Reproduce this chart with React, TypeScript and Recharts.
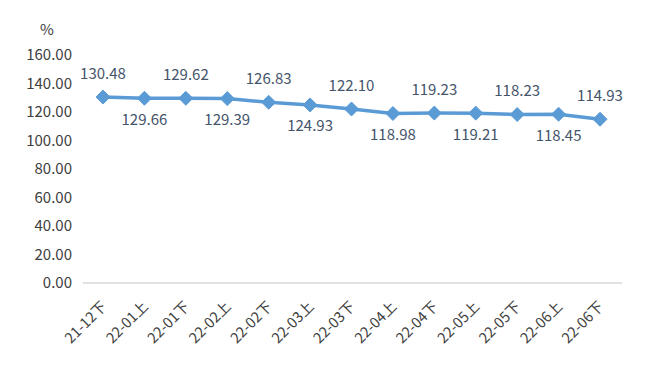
import React from 'react';
import { LineChart, Line, XAxis, YAxis, LabelList } from 'recharts';

const categories = ['21-12下', '22-01上', '22-01下', '22-02上', '22-02下', '22-03上', '22-03下', '22-04上', '22-04下', '22-05上', '22-05下', '22-06上', '22-06下'];
const values = [130.48, 129.66, 129.62, 129.39, 126.83, 124.93, 122.1, 118.98, 119.23, 119.21, 118.23, 118.45, 114.93];
const yTicks = [0, 20, 40, 60, 80, 100, 120, 140, 160];

const data = categories.map((c, i) => ({ name: c, value: values[i] }));

const FONT = '"Noto Sans CJK SC", "Open Sans", sans-serif';
const LINE_COLOR = '#5B9BD5';

const Diamond = (props: any) => {
  const { cx, cy } = props;
  if (cx == null || cy == null) return null;
  const r = 7;
  return (
    <polygon
      points={`${cx},${cy - r} ${cx + r},${cy} ${cx},${cy + r} ${cx - r},${cy}`}
      fill={LINE_COLOR}
      stroke={LINE_COLOR}
    />
  );
};

const PointLabel = (props: any) => {
  const { x, y, value, index } = props;
  const above = index % 2 === 0;
  return (
    <text
      x={x}
      y={above ? y - 25 : y + 20}
      textAnchor="middle"
      dominantBaseline="central"
      fill="#44546A"
      fontSize={15}
      fontFamily={FONT}
    >
      {Number(value).toFixed(2)}
    </text>
  );
};

const XTick = (props: any) => {
  const { x, y, payload } = props;
  return (
    <text
      x={x}
      y={y}
      transform={`rotate(-45, ${x}, ${y})`}
      textAnchor="end"
      dominantBaseline="central"
      fill="#404040"
      fontSize={14.5}
      fontFamily={FONT}
    >
      {payload.value}
    </text>
  );
};

export default function App() {
  return (
    <div style={{ position: 'absolute', left: 0, top: 0, width: 665, height: 368, background: '#fff' }}>
      <LineChart
        width={665}
        height={368}
        data={data}
        margin={{ top: 55, right: 43, bottom: 0, left: 0 }}
      >
        <text x={47} y={28} textAnchor="middle" dominantBaseline="central" fill="#404040" fontSize={15} fontFamily={FONT}>
          %
        </text>
        <XAxis
          dataKey="name"
          interval={0}
          height={85}
          padding={{ left: 20, right: 22 }}
          tickLine={false}
          axisLine={{ stroke: '#D9D9D9', strokeWidth: 1.5 }}
          tick={<XTick />}
          tickMargin={14}
        />
        <YAxis
          width={83}
          domain={[0, 160]}
          ticks={yTicks}
          tickFormatter={(v: number) => v.toFixed(2)}
          axisLine={false}
          tickLine={false}
          tickSize={0}
          tickMargin={11}
          tick={{ fill: '#404040', fontSize: 15, fontFamily: FONT }}
        />
        <Line
          type="linear"
          dataKey="value"
          stroke={LINE_COLOR}
          strokeWidth={3.5}
          dot={<Diamond />}
          activeDot={false}
          isAnimationActive={false}
        >
          <LabelList dataKey="value" content={<PointLabel />} />
        </Line>
      </LineChart>
    </div>
  );
}
